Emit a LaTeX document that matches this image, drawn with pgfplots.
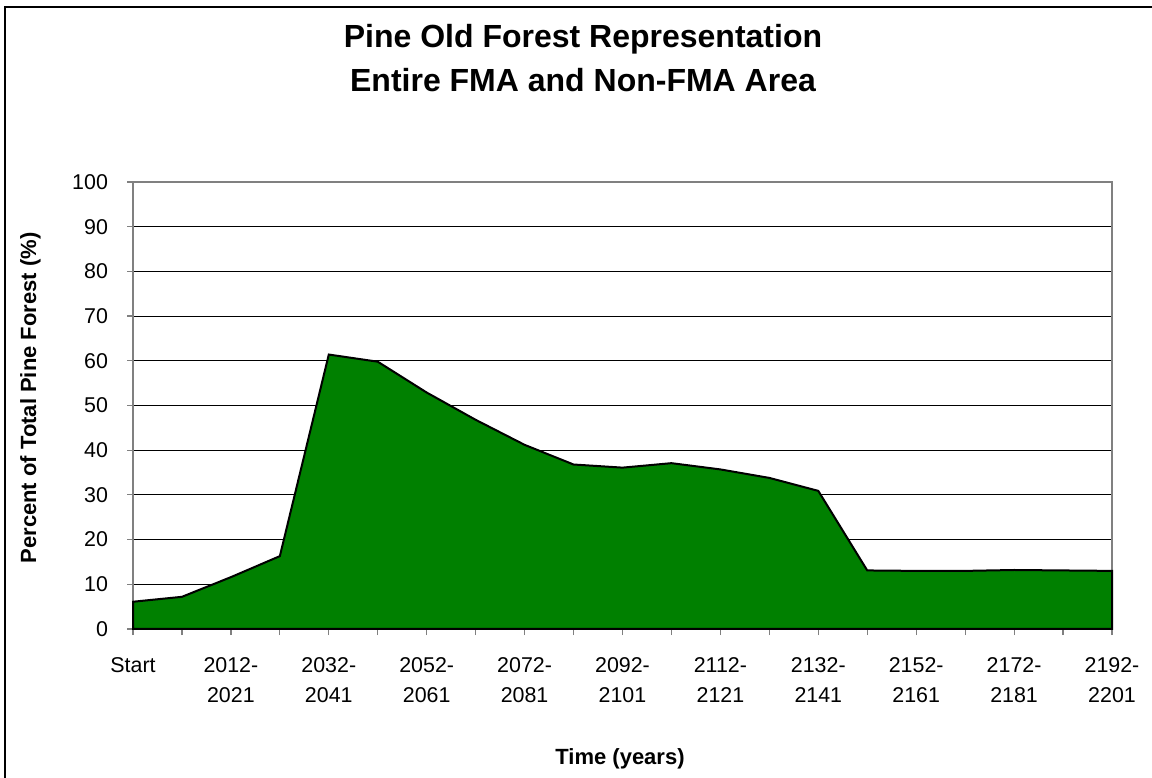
\documentclass[border=0pt]{standalone}
\usepackage{pgfplots}
\pgfplotsset{compat=1.18}
\usepackage{fontspec}
\setmainfont{Liberation Sans}
\definecolor{fgreen}{RGB}{0,128,0}
\definecolor{axgray}{RGB}{128,128,128}
\pgfplotstableread{
x y
0 6.1
1 7.2
2 11.6
3 16.3
4 61.4
5 59.8
6 52.9
7 46.8
8 41.2
9 36.8
10 36.1
11 37.1
12 35.7
13 33.8
14 30.9
15 13.1
16 13.0
17 13.0
18 13.2
19 13.1
20 13.0
}\pinedata
\begin{document}
\begin{tikzpicture}
\useasboundingbox (0,0) rectangle (576pt,388.5pt);
\draw[black, line width=0.6pt] (2.5pt,385pt) rectangle (600pt,-20pt);
\begin{axis}[
  at={(66.5pt,74pt)}, anchor=south west,
  scale only axis, width=489.5pt, height=223.5pt,
  xmin=0, xmax=20, ymin=0, ymax=100,
  xtick={0,...,20},
  xticklabels={Start,,{2012-\\2021},,{2032-\\2041},,{2052-\\2061},,{2072-\\2081},,{2092-\\2101},,{2112-\\2121},,{2132-\\2141},,{2152-\\2161},,{2172-\\2181},,{2192-\\2201}},
  ytick={0,10,...,100},
  xtick pos=left, ytick pos=left,
  tick align=outside, major tick length=3pt,
  tick style={axgray, line width=0.6pt},
  axis line style={axgray, line width=0.9pt},
  ymajorgrids, xmajorgrids=false,
  major grid style={black, line width=0.5pt},
  /pgf/number format/assume math mode=true,
  ticklabel style={font=\fontsize{10.7}{15}\selectfont},
  xticklabel style={align=center, anchor=north, yshift=-7.5pt},
  yticklabel style={xshift=-6pt},
  clip=false,
]
\addplot[fill=fgreen, draw=black, line width=1pt] table[x=x,y=y]{\pinedata} \closedcycle;
\end{axis}
\node[anchor=base, font=\bfseries\fontsize{16}{20}\selectfont] at (291.5pt,364.5pt) {Pine Old Forest Representation};
\node[anchor=base, font=\bfseries\fontsize{16}{20}\selectfont] at (291.5pt,342.5pt) {Entire FMA and Non-FMA Area};
\node[anchor=base, rotate=90, font=\bfseries\fontsize{11}{13}\selectfont] at (18pt,189.5pt) {Percent of Total Pine Forest (\%)};
\node[anchor=base, font=\bfseries\fontsize{11}{13}\selectfont] at (310pt,6pt) {Time (years)};
\end{tikzpicture}
\end{document}
